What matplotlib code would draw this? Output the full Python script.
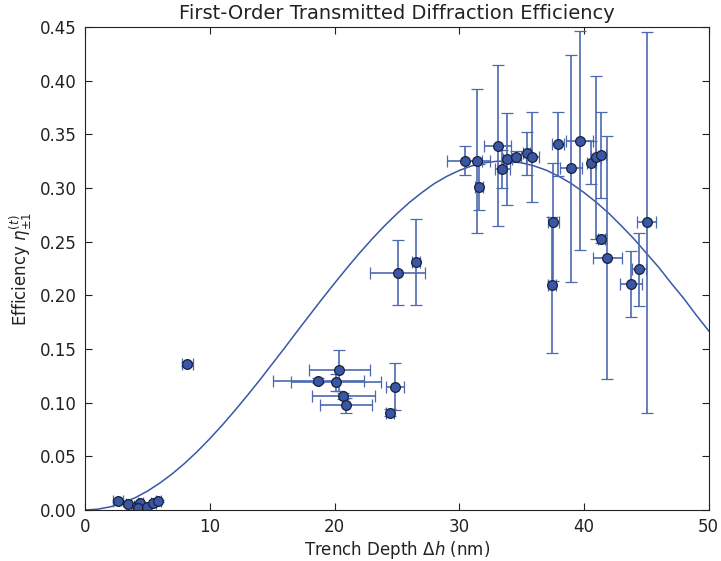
import matplotlib
matplotlib.use("Agg")
import matplotlib.pyplot as plt
import numpy as np

# measured points: trench depth (nm) and first-order efficiency
depth = [2.67, 3.47, 4.14, 4.41, 4.22, 4.94, 5.48, 5.88,
         8.2,
         20.38, 18.7, 20.11, 20.7, 20.91, 24.84, 24.44,
         25.05, 26.52, 30.45, 31.46, 31.57, 33.07, 33.44, 33.85, 34.54,
         35.39, 35.87, 37.93, 37.53, 37.45, 39.66, 38.94, 40.6, 40.95,
         41.4, 41.4, 41.85, 43.75, 44.39, 45.03]
depth_err = [0.4, 0.2, 0.2, 0.2, 0.2, 0.2, 0.2, 0.2,
             0.45,
             2.45, 3.66, 3.6, 2.54, 2.1, 0.72, 0.3,
             2.2, 0.3, 1.4, 1.0, 0.3, 1.1, 0.6, 0.35, 0.4,
             0.3, 0.5, 0.5, 0.45, 0.3, 1.07, 0.87, 0.4, 0.4,
             0.4, 0.3, 1.16, 0.9, 0.55, 0.78]
eff = [0.0087, 0.0056, 0.0037, 0.0062, 0.0019, 0.0031, 0.0062, 0.0087,
       0.136,
       0.1301, 0.1205, 0.119, 0.1059, 0.0975, 0.1149, 0.0907,
       0.2211, 0.2308, 0.3252, 0.3249, 0.301, 0.3394, 0.3177, 0.327, 0.3292,
       0.3324, 0.3286, 0.3407, 0.2686, 0.2096, 0.3438, 0.3184, 0.3236, 0.3286,
       0.3305, 0.2525, 0.2351, 0.2106, 0.2243, 0.268]
eff_err = [0.001, 0.001, 0.001, 0.001, 0.001, 0.001, 0.001, 0.001,
           0.002,
           0.019, 0.002, 0.008, 0.003, 0.007, 0.022, 0.003,
           0.030, 0.040, 0.0135, 0.067, 0.0215, 0.075, 0.018, 0.043, 0.005,
           0.02, 0.042, 0.03, 0.055, 0.0634, 0.102, 0.1056, 0.02, 0.076,
           0.040, 0.004, 0.113, 0.031, 0.034, 0.1775]

# model curve, one value per nm
model_depth = list(range(0, 51))
model_eff = [0.0, 0.00071, 0.00285, 0.00639, 0.0113, 0.01754, 0.0251,
             0.03377, 0.0436, 0.05452, 0.0664, 0.07906, 0.0925, 0.10652,
             0.1210, 0.1360, 0.1510, 0.16637, 0.1815, 0.19657, 0.2112,
             0.22549, 0.2393, 0.25234, 0.2646, 0.27595, 0.2865, 0.29568,
             0.3041, 0.31081, 0.3163, 0.32057, 0.3234, 0.32481, 0.3248,
             0.32341, 0.3205, 0.31639, 0.3107, 0.30396, 0.2957, 0.28646,
             0.2762, 0.26463, 0.2526, 0.23919, 0.2259, 0.21108, 0.1970,
             0.1815, 0.1668]

blue = '#3a56a6'

fig = plt.figure(figsize=(7.21, 5.61), dpi=100)
ax = fig.add_axes([0.118, 0.091, 0.865, 0.861])

ax.plot(model_depth, model_eff, color=blue, lw=1.1, zorder=1)
ax.errorbar(depth, eff, xerr=depth_err, yerr=eff_err, fmt='o',
            color=blue, ecolor='#4c68b0', elinewidth=1.2, capsize=4.5,
            capthick=1.2, markersize=7, markeredgecolor='#1a2235',
            markeredgewidth=0.9, zorder=2)

ax.set_xlim(0, 50)
ax.set_ylim(0, 0.45)
ax.set_xticks(np.arange(0, 51, 10))
ax.set_yticks(np.arange(0, 0.451, 0.05))
ax.set_yticklabels(['%.2f' % v for v in np.arange(0, 0.451, 0.05)])
ax.tick_params(direction='in', top=True, right=True, length=5,
               labelsize=12, colors='#222222', pad=6)
for s in ax.spines.values():
    s.set_color('#222222')

ax.set_title('First-Order Transmitted Diffraction Efficiency', fontsize=14,
             color='#222222')
ax.set_xlabel(r'Trench Depth $\Delta h$ (nm)', fontsize=12, color='#222222',
              labelpad=2)
ax.set_ylabel(r'Efficiency $\eta_{\pm1}^{(t)}$', fontsize=12, color='#222222')

fig.savefig('out.png', dpi=100)
